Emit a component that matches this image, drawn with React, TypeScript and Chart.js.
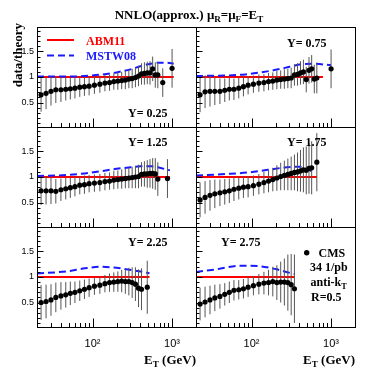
import React, { useEffect, useRef } from 'react';
import { Chart, registerables } from 'chart.js';

Chart.register(...registerables);

// ---------- axes ----------
const X_MIN = 20;
const X_MAX = 2000;
const Y_MIN = 0.02;
const Y_MAX = 1.98;
const Y_TICK_LABELS = [0.5, 1, 1.5];
const Y_MINOR = [0.1, 0.2, 0.3, 0.4, 0.6, 0.7, 0.8, 0.9, 1.1, 1.2, 1.3, 1.4, 1.6, 1.7, 1.8, 1.9];
const X_TICK_LABELS = [100, 1000];
const X_TICK_TEXT = ['10²', '10³'];
const X_MINOR = [30, 40, 50, 60, 70, 80, 90, 200, 300, 400, 500, 600, 700, 800, 900];
const ABM11_RATIO = 1;

// ---------- Y = 0.25 ----------
const pt025 = [22.5, 26, 30, 34.5, 40, 46, 52.5, 60, 69, 79, 90.5, 105.5, 123.5, 143, 163.5, 185, 208, 232.5, 258.5, 286, 315, 346, 378.5, 412.5, 449, 487.5, 527.5, 570, 615, 662, 763.5, 1000];
const r025 = [0.65, 0.68, 0.72, 0.75, 0.75, 0.76, 0.77, 0.78, 0.80, 0.81, 0.82, 0.84, 0.86, 0.88, 0.89, 0.91, 0.92, 0.93, 0.94, 0.96, 0.97, 0.99, 1.02, 1.06, 1.07, 1.08, 1.08, 1.16, 1.04, 1.04, 0.89, 1.17];
const e025 = [0.33, 0.31, 0.28, 0.26, 0.24, 0.22, 0.21, 0.2, 0.19, 0.18, 0.18, 0.17, 0.17, 0.16, 0.16, 0.16, 0.17, 0.17, 0.18, 0.18, 0.19, 0.19, 0.2, 0.21, 0.22, 0.22, 0.23, 0.24, 0.25, 0.26, 0.28, 0.38];
const mstwX025 = [20, 60, 100, 150, 200, 300, 400, 500, 700, 850, 1050];
const mstwY025 = [1.01, 1.01, 1.03, 1.06, 1.09, 1.15, 1.21, 1.25, 1.28, 1.28, 1.26];
const abmEnd025 = 1050;

// ---------- Y = 0.75 ----------
const pt075 = [22.5, 26, 30, 34.5, 40, 46, 52.5, 60, 69, 79, 90.5, 105.5, 123.5, 143, 163.5, 185, 208, 232.5, 258.5, 286, 315, 346, 378.5, 412.5, 449, 487.5, 527.5, 570, 615, 662, 1000];
const r075 = [0.65, 0.71, 0.72, 0.72, 0.72, 0.74, 0.76, 0.76, 0.78, 0.81, 0.84, 0.86, 0.88, 0.89, 0.91, 0.92, 0.94, 0.95, 0.96, 0.97, 0.98, 1.04, 1.05, 1.08, 1.10, 0.95, 1.13, 1.16, 0.96, 0.98, 1.16];
const e075 = [0.34, 0.32, 0.3, 0.27, 0.25, 0.23, 0.22, 0.21, 0.2, 0.19, 0.18, 0.17, 0.17, 0.17, 0.17, 0.17, 0.18, 0.18, 0.19, 0.19, 0.2, 0.21, 0.22, 0.23, 0.24, 0.25, 0.26, 0.27, 0.28, 0.3, 0.38];
const mstwX075 = [20, 50, 83, 130, 217, 300, 427, 600, 1000];
const mstwY075 = [1.02, 1.03, 1.05, 1.09, 1.15, 1.2, 1.25, 1.26, 1.23];
const abmEnd075 = 790;

// ---------- Y = 1.25 ----------
const pt125 = [22.5, 26, 30, 34.5, 40, 46, 52.5, 60, 69, 79, 90.5, 105.5, 123.5, 143, 163.5, 185, 208, 232.5, 258.5, 286, 315, 346, 378.5, 412.5, 449, 487.5, 527.5, 570, 615, 662, 875];
const r125 = [0.73, 0.73, 0.73, 0.72, 0.75, 0.77, 0.79, 0.81, 0.84, 0.85, 0.87, 0.88, 0.89, 0.91, 0.92, 0.94, 0.95, 0.96, 0.97, 0.98, 0.99, 1.0, 1.01, 1.05, 1.06, 1.06, 1.07, 1.07, 1.06, 0.96, 0.97];
const e125 = [0.28, 0.27, 0.26, 0.24, 0.22, 0.21, 0.2, 0.19, 0.18, 0.18, 0.17, 0.17, 0.17, 0.17, 0.17, 0.18, 0.18, 0.19, 0.19, 0.2, 0.21, 0.22, 0.23, 0.24, 0.25, 0.27, 0.28, 0.3, 0.31, 0.33, 0.38];
const mstwX125 = [20, 50, 80, 124, 200, 300, 400, 550, 700, 940];
const mstwY125 = [1.02, 1.04, 1.07, 1.11, 1.16, 1.19, 1.21, 1.21, 1.18, 1.13];
const abmEnd125 = 940;

// ---------- Y = 1.75 ----------
const pt175 = [22.5, 26, 30, 34.5, 40, 46, 52.5, 60, 69, 79, 90.5, 105.5, 123.5, 143, 163.5, 185, 208, 232.5, 258.5, 286, 315, 346, 378.5, 412.5, 449, 487.5, 527.5, 570, 662];
const r175 = [0.55, 0.6, 0.64, 0.67, 0.69, 0.71, 0.73, 0.76, 0.78, 0.8, 0.81, 0.83, 0.86, 0.89, 0.92, 0.95, 0.98, 1.01, 1.03, 1.05, 1.07, 1.09, 1.1, 1.12, 1.14, 1.13, 1.17, 1.18, 1.29];
const e175 = [0.34, 0.32, 0.3, 0.28, 0.26, 0.25, 0.24, 0.23, 0.22, 0.21, 0.21, 0.2, 0.2, 0.21, 0.22, 0.23, 0.25, 0.27, 0.29, 0.31, 0.33, 0.35, 0.38, 0.41, 0.44, 0.47, 0.5, 0.52, 0.57];
const mstwX175 = [20, 50, 93, 160, 277, 400, 500, 570];
const mstwY175 = [1.03, 1.06, 1.09, 1.14, 1.19, 1.2, 1.16, 1.11];
const abmEnd175 = 665;

// ---------- Y = 2.25 ----------
const pt225 = [22.5, 26, 30, 34.5, 40, 46, 52.5, 60, 69, 79, 90.5, 105.5, 123.5, 143, 163.5, 185, 208, 232.5, 258.5, 286, 315, 346, 378.5, 412.5, 487.5];
const r225 = [0.5, 0.52, 0.55, 0.6, 0.63, 0.65, 0.68, 0.7, 0.73, 0.76, 0.79, 0.82, 0.84, 0.87, 0.89, 0.9, 0.91, 0.92, 0.91, 0.91, 0.89, 0.86, 0.78, 0.76, 0.8];
const e225 = [0.34, 0.33, 0.31, 0.29, 0.27, 0.25, 0.23, 0.21, 0.2, 0.19, 0.18, 0.17, 0.17, 0.17, 0.18, 0.19, 0.2, 0.22, 0.24, 0.27, 0.3, 0.33, 0.37, 0.41, 0.52];
const mstwX225 = [20, 47, 80, 124, 200, 326, 500, 520];
const mstwY225 = [1.07, 1.11, 1.17, 1.2, 1.18, 1.13, 1.08, 1.07];
const abmEnd225 = 520;

// ---------- Y = 2.75 ----------
const pt275 = [22.5, 26, 30, 34.5, 40, 46, 52.5, 60, 69, 79, 90.5, 105.5, 123.5, 143, 163.5, 185, 208, 232.5, 258.5, 286, 315, 346];
const r275 = [0.47, 0.51, 0.55, 0.59, 0.62, 0.66, 0.7, 0.74, 0.75, 0.77, 0.8, 0.83, 0.86, 0.88, 0.89, 0.91, 0.89, 0.9, 0.9, 0.89, 0.85, 0.77];
const e275 = [0.32, 0.3, 0.28, 0.26, 0.24, 0.22, 0.21, 0.2, 0.19, 0.19, 0.19, 0.19, 0.2, 0.22, 0.25, 0.29, 0.34, 0.4, 0.46, 0.55, 0.6, 0.67];
const mstwX275 = [20, 36, 71, 128, 207, 304, 350];
const mstwY275 = [1.1, 1.15, 1.22, 1.21, 1.15, 1.08, 1.06];
const abmEnd275 = 350;

const PANELS = [
  { label: 'Y= 0.25', pt: pt025, r: r025, e: e025, mx: mstwX025, my: mstwY025, end: abmEnd025, x: 'xL', y: 'y1' },
  { label: 'Y= 0.75', pt: pt075, r: r075, e: e075, mx: mstwX075, my: mstwY075, end: abmEnd075, x: 'xR', y: 'y1' },
  { label: 'Y= 1.25', pt: pt125, r: r125, e: e125, mx: mstwX125, my: mstwY125, end: abmEnd125, x: 'xL', y: 'y2' },
  { label: 'Y= 1.75', pt: pt175, r: r175, e: e175, mx: mstwX175, my: mstwY175, end: abmEnd175, x: 'xR', y: 'y2' },
  { label: 'Y= 2.25', pt: pt225, r: r225, e: e225, mx: mstwX225, my: mstwY225, end: abmEnd225, x: 'xL', y: 'y3' },
  { label: 'Y= 2.75', pt: pt275, r: r275, e: e275, mx: mstwX275, my: mstwY275, end: abmEnd275, x: 'xR', y: 'y3' },
];

const SERIF = '"Liberation Serif", "Times New Roman", serif';
const SANS = '"Liberation Sans", Arial, sans-serif';

type Seg = { t: string; sub?: boolean };

function drawRich(ctx: CanvasRenderingContext2D, segs: Seg[], x: number, y: number, size: number, color: string, align: 'left' | 'right' | 'center' = 'left') {
  const f = (s: number) => `bold ${s}px ${SERIF}`;
  let w = 0;
  for (const s of segs) {
    ctx.font = f(s.sub ? size * 0.7 : size);
    w += ctx.measureText(s.t).width;
  }
  let cx = align === 'right' ? x - w : align === 'center' ? x - w / 2 : x;
  ctx.fillStyle = color;
  ctx.textAlign = 'left';
  ctx.textBaseline = 'alphabetic';
  for (const s of segs) {
    const fs = s.sub ? size * 0.7 : size;
    ctx.font = f(fs);
    ctx.fillText(s.t, cx, y + (s.sub ? size * 0.28 : 0));
    cx += ctx.measureText(s.t).width;
  }
}

const rootStyle = {
  id: 'rootStyle',
  afterDatasetsDraw(chart: any) {
    const ctx: CanvasRenderingContext2D = chart.ctx;
    ctx.save();
    ctx.strokeStyle = '#000';
    ctx.lineWidth = 1;
    ctx.setLineDash([]);
    const line = (x1: number, y1: number, x2: number, y2: number) => {
      ctx.beginPath();
      ctx.moveTo(x1, y1);
      ctx.lineTo(x2, y2);
      ctx.stroke();
    };
    for (const r of ['y1', 'y2', 'y3']) {
      for (const c of ['xL', 'xR']) {
        const xs = chart.scales[c];
        const ys = chart.scales[r];
        const l = Math.round(xs.left) + 0.5;
        const rt = Math.round(xs.right) + 0.5;
        const t = Math.round(ys.top) + 0.5;
        const b = Math.round(ys.bottom) + 0.5;
        ctx.strokeRect(l, t, rt - l, b - t);
        for (const v of X_MINOR) {
          const px = Math.round(xs.getPixelForValue(v)) + 0.5;
          line(px, b, px, b - 4.5);
        }
        for (const v of X_TICK_LABELS) {
          const px = Math.round(xs.getPixelForValue(v)) + 0.5;
          line(px, b, px, b - 9);
        }
        for (const v of Y_MINOR) {
          const py = Math.round(ys.getPixelForValue(v)) + 0.5;
          line(l, py, l + 3, py);
        }
        for (const v of Y_TICK_LABELS) {
          const py = Math.round(ys.getPixelForValue(v)) + 0.5;
          line(l, py, l + 6, py);
        }
      }
    }
    ctx.restore();
  },
  afterDraw(chart: any) {
    const ctx: CanvasRenderingContext2D = chart.ctx;
    ctx.save();
    // title
    drawRich(ctx, [{ t: 'NNLO(approx.) μ' }, { t: 'R', sub: true }, { t: '=μ' }, { t: 'F', sub: true }, { t: '=E' }, { t: 'T', sub: true }], 189, 18.5, 13, '#000', 'center');
    // y title
    ctx.save();
    ctx.translate(22, 23);
    ctx.rotate(-Math.PI / 2);
    ctx.font = `bold 13px ${SERIF}`;
    ctx.fillStyle = '#000';
    ctx.textAlign = 'right';
    ctx.textBaseline = 'alphabetic';
    ctx.fillText('data/theory', 0, 0);
    ctx.restore();
    // x titles
    const xl = chart.scales.xL;
    const xr = chart.scales.xR;
    drawRich(ctx, [{ t: 'E' }, { t: 'T', sub: true }, { t: ' (GeV)' }], xl.right, 363.5, 13, '#000', 'right');
    drawRich(ctx, [{ t: 'E' }, { t: 'T', sub: true }, { t: ' (GeV)' }], xr.right, 363.5, 13, '#000', 'right');
    // legend
    ctx.lineWidth = 2;
    ctx.strokeStyle = '#ff0000';
    ctx.beginPath(); ctx.moveTo(47, 40); ctx.lineTo(74, 40); ctx.stroke();
    ctx.strokeStyle = '#1a1aff';
    ctx.setLineDash([7, 4]);
    ctx.beginPath(); ctx.moveTo(47, 55.5); ctx.lineTo(74, 55.5); ctx.stroke();
    ctx.setLineDash([]);
    drawRich(ctx, [{ t: 'ABM11' }], 86, 44.5, 12, '#ff0000');
    drawRich(ctx, [{ t: 'MSTW08' }], 86, 60, 12, '#1a1aff');
    // panel labels
    const labelPos = [[128, 116.5], [287, 46.5], [128, 146], [287, 146], [128, 246], [221, 246]];
    PANELS.forEach((p, i) => drawRich(ctx, [{ t: p.label }], labelPos[i][0], labelPos[i][1], 12, '#000'));
    // CMS legend
    ctx.fillStyle = '#000';
    ctx.beginPath(); ctx.arc(306.7, 252.7, 2.7, 0, Math.PI * 2); ctx.fill();
    drawRich(ctx, [{ t: 'CMS' }], 318.5, 256.5, 12, '#000');
    drawRich(ctx, [{ t: '34 1/pb' }], 310, 271, 12, '#000');
    drawRich(ctx, [{ t: 'anti-k' }, { t: 'T', sub: true }], 310.5, 286, 12, '#000');
    drawRich(ctx, [{ t: 'R=0.5' }], 311, 301, 12, '#000');
    ctx.restore();
  },
};

function xScale(weight: number) {
  return {
    type: 'logarithmic',
    position: 'bottom',
    stack: 'bx',
    stackWeight: 1,
    weight,
    min: X_MIN,
    max: X_MAX,
    grid: { display: false, drawTicks: false },
    border: { display: false },
    afterBuildTicks: (s: any) => { s.ticks = X_TICK_LABELS.map((v) => ({ value: v })); },
    afterFit: (s: any) => { s.height = 47; },
    ticks: {
      autoSkip: false,
      maxRotation: 0,
      padding: 10,
      color: '#000',
      font: { family: SANS, size: 11 },
      callback: (v: number) => {
        const i = X_TICK_LABELS.indexOf(v);
        return i >= 0 ? X_TICK_TEXT[i] : '';
      },
    },
  };
}

function yScale(weight: number) {
  return {
    type: 'linear',
    position: 'left',
    stack: 'ly',
    stackWeight: 1,
    weight,
    min: Y_MIN,
    max: Y_MAX,
    grid: { display: false, drawTicks: false },
    border: { display: false },
    afterBuildTicks: (s: any) => { s.ticks = Y_TICK_LABELS.map((v) => ({ value: v })); },
    afterFit: (s: any) => { s.width = 37; },
    ticks: {
      autoSkip: false,
      padding: 3,
      color: '#000',
      font: { family: SANS, size: 9 },
      callback: (v: number) => String(v),
    },
  };
}

export default function App() {
  const ref = useRef<HTMLCanvasElement>(null);
  useEffect(() => {
    const canvas = ref.current;
    if (!canvas) return;
    const datasets: any[] = [];
    for (const p of PANELS) {
      datasets.push({
        data: p.pt.map((x, i) => ({ x, y: p.r[i] })),
        xAxisID: p.x, yAxisID: p.y,
        showLine: false,
        pointRadius: 2.6, pointBorderWidth: 0,
        backgroundColor: '#000', borderColor: '#000',
        order: 0,
      });
      const eb: any[] = [];
      p.pt.forEach((x, i) => {
        eb.push({ x, y: p.r[i] - p.e[i] }, { x, y: p.r[i] + p.e[i] }, { x, y: null });
      });
      datasets.push({
        data: eb,
        xAxisID: p.x, yAxisID: p.y,
        showLine: true, spanGaps: false,
        borderColor: '#555', borderWidth: 1,
        pointRadius: 0,
        order: 1,
      });
      datasets.push({
        data: p.mx.map((x, i) => ({ x, y: p.my[i] })),
        xAxisID: p.x, yAxisID: p.y,
        showLine: true,
        borderColor: '#1a1aff', borderWidth: 2, borderDash: [7, 4],
        cubicInterpolationMode: 'monotone',
        pointRadius: 0,
        order: 2,
      });
      datasets.push({
        data: [{ x: X_MIN, y: ABM11_RATIO }, { x: p.end, y: ABM11_RATIO }],
        xAxisID: p.x, yAxisID: p.y,
        showLine: true,
        borderColor: '#ff0000', borderWidth: 2,
        pointRadius: 0,
        order: 3,
      });
    }
    const chart = new Chart(canvas, {
      type: 'scatter',
      data: { datasets },
      options: {
        responsive: false,
        animation: false,
        devicePixelRatio: 1,
        layout: { padding: { top: 27, right: 19, bottom: 0, left: 0 } },
        plugins: { legend: { display: false }, tooltip: { enabled: false }, title: { display: false } },
        events: [],
        scales: {
          xL: xScale(0),
          xR: xScale(1),
          y1: yScale(3),
          y2: yScale(2),
          y3: yScale(1),
        } as any,
      } as any,
      plugins: [rootStyle as any],
    });
    return () => chart.destroy();
  }, []);
  return (
    <div style={{ position: 'fixed', left: 0, top: 0, width: 374, height: 374, background: '#fff' }}>
      <canvas ref={ref} width={374} height={374} style={{ display: 'block', width: 374, height: 374 }} />
    </div>
  );
}
